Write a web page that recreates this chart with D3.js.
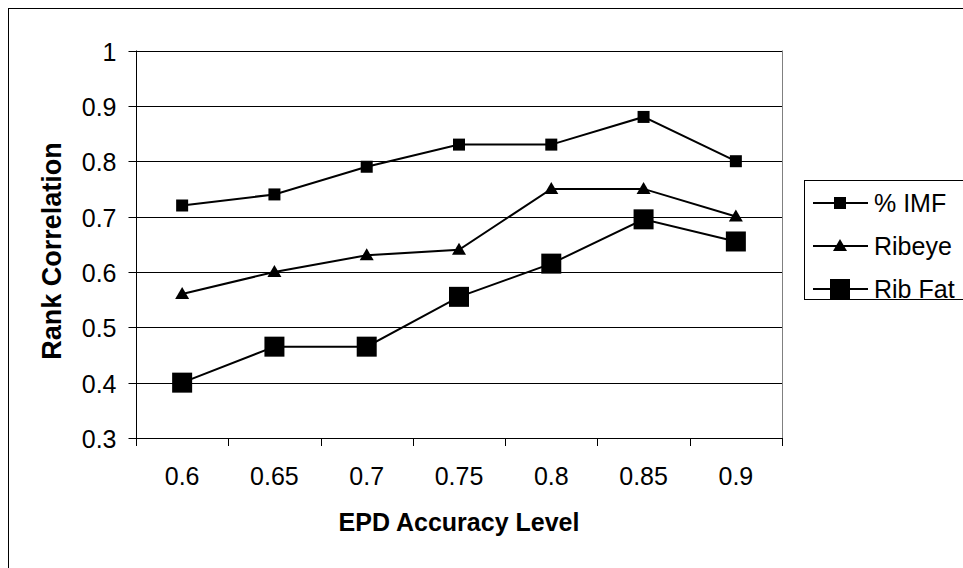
<!DOCTYPE html>
<html><head><meta charset="utf-8">
<script src="https://cdn.jsdelivr.net/npm/d3@7"></script>
<style>html,body{margin:0;padding:0;background:#fff;}svg{display:block;}</style>
</head><body>
<svg id="c" width="963" height="568"></svg>
<script>
const categories = ["0.6","0.65","0.7","0.75","0.8","0.85","0.9"];
const imf    = [0.72,0.74,0.79,0.83,0.83,0.88,0.80];
const ribeye = [0.56,0.60,0.63,0.64,0.75,0.75,0.70];
const ribfat = [0.40,0.465,0.465,0.555,0.615,0.695,0.655];
const yTicks = [0.3,0.4,0.5,0.6,0.7,0.8,0.9,1];
const seriesNames = ["% IMF","Ribeye","Rib Fat"];

const svg = d3.select("#c");
const FONT = "'Liberation Sans', Arial, sans-serif";
const L=136, R=782, T=50.5, B=438;

// outer border
svg.append("rect").attr("x",8.5).attr("y",8.5).attr("width",1000).attr("height",1000)
  .attr("fill","#fff").attr("stroke","#000").attr("stroke-width",1);

const x = d3.scaleBand().domain(categories).range([L,R]);
const y = d3.scaleLinear().domain([0.3,1]).range([B,T]);

// gridlines
svg.append("g").selectAll("line").data(yTicks).join("line")
  .attr("x1",L).attr("x2",R).attr("y1",d=>Math.round(y(d))+0.5).attr("y2",d=>Math.round(y(d))+0.5)
  .attr("stroke","#000").attr("stroke-width",1);
// right plot border
svg.append("line").attr("x1",R+0.5).attr("x2",R+0.5).attr("y1",T).attr("y2",B).attr("stroke","#808080");

// y axis
const ya = svg.append("g").attr("transform",`translate(${L+0.5},0)`)
  .call(d3.axisLeft(y).tickValues(yTicks).tickSize(8).tickPadding(12).tickFormat(d=>String(+d.toFixed(1))));
ya.select(".domain").attr("d",`M0,${T}V${B+0.5}`);
ya.selectAll(".tick").attr("transform",d=>`translate(0,${Math.round(y(d))+0.5})`);
ya.selectAll("text").attr("font-family",FONT).attr("font-size",25).attr("fill","#000").attr("dy","0.36em");
ya.selectAll("path,line").attr("stroke","#000");

// x axis
const xa = svg.append("g").attr("transform",`translate(0,${Math.round(B)+0.5})`)
  .call(d3.axisBottom(x).tickSize(0).tickPadding(29));
xa.select(".domain").remove();
xa.selectAll("text").attr("font-family",FONT).attr("font-size",25).attr("fill","#000");
// x tick marks at category boundaries
const bounds = categories.map(c=>x(c)).concat([R]);
svg.append("g").selectAll("line").data(bounds).join("line")
  .attr("x1",d=>Math.round(d)+0.5).attr("x2",d=>Math.round(d)+0.5)
  .attr("y1",B).attr("y2",B+8).attr("stroke","#000");
svg.append("line").attr("x1",L).attr("x2",R+1).attr("y1",Math.round(B)+0.5).attr("y2",Math.round(B)+0.5).attr("stroke","#000");

// axis titles
svg.append("text").attr("x",(L+R)/2).attr("y",531).attr("text-anchor","middle")
  .attr("font-family",FONT).attr("font-size",25).attr("font-weight","bold").text("EPD Accuracy Level");
svg.append("text").attr("transform",`translate(61,251) rotate(-90)`).attr("text-anchor","middle")
  .attr("font-family",FONT).attr("font-size",27).attr("font-weight","bold").text("Rank Correlation");

const cx = c => x(c)+x.bandwidth()/2;
const line = d3.line().x((d,i)=>cx(categories[i])).y(d=>y(d));

function marker(g, type, px, py){
  if(type==="sq") g.append("rect").attr("x",px-6).attr("y",py-6).attr("width",12).attr("height",12).attr("fill","#000");
  else if(type==="big") g.append("rect").attr("x",px-10).attr("y",py-10).attr("width",20).attr("height",20).attr("fill","#000");
  else g.append("path").attr("d",`M${px},${py-7}L${px+7},${py+5}L${px-7},${py+5}Z`).attr("fill","#000");
}
const series = [[imf,"sq"],[ribeye,"tri"],[ribfat,"big"]];
series.forEach(([vals,type])=>{
  const g = svg.append("g");
  g.append("path").attr("d",line(vals)).attr("fill","none").attr("stroke","#000").attr("stroke-width",2);
  vals.forEach((v,i)=>marker(g,type,cx(categories[i]),y(v)));
});

// legend
const lg = svg.append("g");
lg.append("rect").attr("x",804.5).attr("y",180.5).attr("width",200).attr("height",119)
  .attr("fill","#fff").attr("stroke","#000");
const ly = [203,246,289];
series.forEach(([vals,type],i)=>{
  lg.append("line").attr("x1",813).attr("x2",868).attr("y1",ly[i]).attr("y2",ly[i]).attr("stroke","#000").attr("stroke-width",2);
  marker(lg,type,840,ly[i]);
  lg.append("text").attr("x",874).attr("y",ly[i]).attr("dy","0.36em").attr("font-family",FONT).attr("font-size",25).text(seriesNames[i]);
});
</script>
</body></html>
